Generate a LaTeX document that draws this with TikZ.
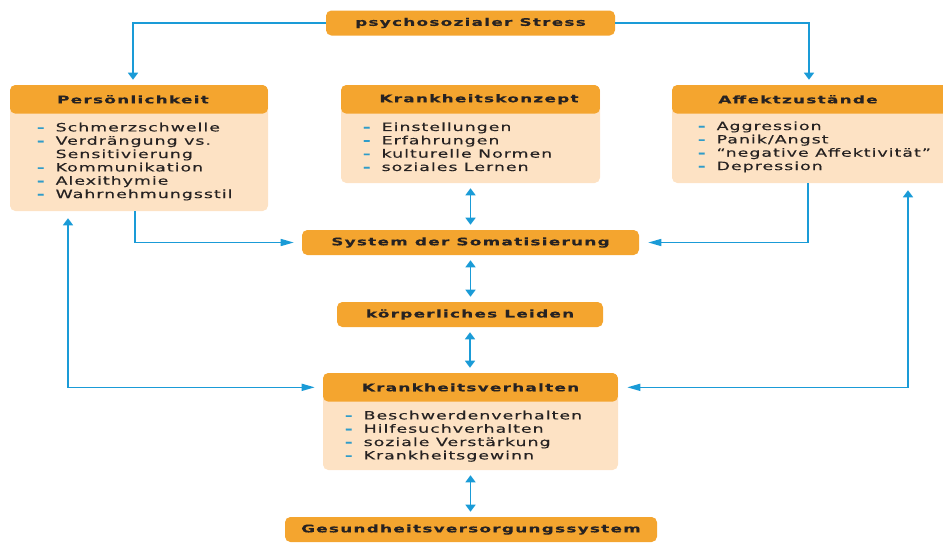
\documentclass[tikz,border=0pt]{standalone}
\usepackage{fontspec}
\setmainfont{DejaVu Sans}[FakeStretch=1.52,LetterSpace=9,FakeBold=0.35,
  BoldFeatures={FakeStretch=1.6,LetterSpace=12,FakeBold=0.3}]
\usepackage{tikz}
\usetikzlibrary{arrows.meta,positioning,calc}
\usepackage{xcolor}

\definecolor{orange}{HTML}{F4A52F}
\definecolor{pfirsich}{HTML}{FDE2C4}
\definecolor{blau}{HTML}{1A9BD7}
\definecolor{schrift}{HTML}{262222}
\definecolor{strich}{HTML}{2F9CC9}

\newcommand{\kopffont}{\bfseries\fontsize{7.9}{9}\selectfont}
\newcommand{\pkt}{\makebox[14pt][l]{\textcolor{strich}{\bfseries -}}}

\begin{document}
\begin{tikzpicture}[x=0.75pt,y=-0.75pt,
  balken/.style={fill=orange,rounded corners=4pt,inner sep=0pt,font=\kopffont,
                 text=schrift,minimum height=18.75pt},
  kasten/.style={fill=pfirsich,rounded corners=4pt,inner sep=0pt,
                 path picture={\fill[orange] (path picture bounding box.north west)
                   rectangle ([yshift=-21.5pt]path picture bounding box.north east);}},
  kopf/.style={anchor=north,inner sep=0pt,minimum height=21.5pt,font=\kopffont,text=schrift},
  liste/.style={inner sep=0pt,align=left,text=schrift,font=\fontsize{8.55}{10}\selectfont},
  spitzev/.tip={Triangle[length=5.25pt,width=7.5pt]},
  spitzeh/.tip={Triangle[length=9.75pt,width=5.25pt]},
  pfeil/.style={draw=blau,line width=1.1pt}]
\useasboundingbox (0,0) rectangle (943,543);

% Kaesten
\node[balken,minimum width=216.75pt] (stress) at (470.5,23) {psychosozialer Stress};
\node[kasten,minimum width=193.5pt,minimum height=94.5pt,
  label={[kopf,name=pers-k,xshift=-4.5pt]north:Persönlichkeit}] (pers) at (139,148) {};
\node[kasten,minimum width=194.25pt,minimum height=73.5pt,
  label={[kopf,name=konz-k,xshift=6.4pt]north:Krankheitskonzept}] (konz) at (470.5,134) {};
\node[kasten,minimum width=207pt,minimum height=73.5pt,
  label={[kopf,name=aff-k,xshift=-9pt]north:Affektzustände}] (aff) at (810,134) {};
\node[balken,minimum width=252.75pt] (soma) at (470.5,242.5) {System der Somatisierung};
\node[balken,minimum width=199.5pt] (leiden) at (470,314.5) {körperliches Leiden};
\node[kasten,minimum width=221.25pt,minimum height=72.75pt,
  label={[kopf,name=verh-k]north:Krankheitsverhalten}] (verh) at (470.5,421.5) {};
\node[balken,minimum width=279pt] (ges) at (471,529.5) {Gesundheitsversorgungssystem};

% Listen
\node[liste,below right=28.3pt and 20.25pt of pers.north west] (pers-l)
  {\pkt Schmerzschwelle\\ \pkt Verdrängung vs.\\ \hspace*{14pt}Sensitivierung\\
   \pkt Kommunikation\\ \pkt Alexithymie\\ \pkt Wahrnehmungsstil};
\node[liste,below right=28pt and 16.5pt of konz.north west] (konz-l)
  {\pkt Einstellungen\\ \pkt Erfahrungen\\ \pkt kulturelle Normen\\ \pkt soziales Lernen};
\node[liste,below right=27.3pt and 19.5pt of aff.north west] (aff-l)
  {\pkt Aggression\\ \pkt Panik/Angst\\ \pkt “negative Affektivität”\\ \pkt Depression};
\node[liste,below right=28.3pt and 16.5pt of verh.north west] (verh-l)
  {\pkt Beschwerdenverhalten\\ \pkt Hilfesuchverhalten\\ \pkt soziale Verstärkung\\
   \pkt Krankheitsgewinn};

% Pfeile
\draw[pfeil,-spitzev,shorten >=3.75pt] (stress.west) -| ($(pers.north)+(-6,0)$);
\draw[pfeil,-spitzev,shorten >=3.75pt] (stress.east) -| ($(aff.north)+(-1,0)$);
\draw[pfeil,-spitzeh,shorten >=6pt] ($(pers.south)+(-4,0)$) |- (soma.west);
\draw[pfeil,-spitzeh,shorten >=6.75pt] ($(aff.south)+(-2,0)$) |- (soma.east);
\draw[pfeil,spitzev-spitzeh,shorten <=5.25pt,shorten >=6pt]
  ($(pers.south)+(-71,0)$) |- (verh.west |- verh-k);
\draw[pfeil,spitzev-spitzeh,shorten <=5.25pt,shorten >=6.75pt]
  ($(aff.south)+(98,0)$) |- (verh.east |- verh-k);
\draw[pfeil,spitzev-spitzev,shorten <=3.75pt,shorten >=3.75pt] (konz.south) -- (soma.north);
\draw[pfeil,spitzev-spitzev,shorten <=3.75pt,shorten >=3.75pt] (soma.south) -- (soma.south |- leiden.north);
\draw[pfeil,spitzev-spitzev,shorten <=3.75pt,shorten >=3.75pt] (leiden.south) -- (leiden.south |- verh.north);
\draw[pfeil,spitzev-spitzev,shorten <=3.75pt,shorten >=3.75pt] (verh.south) -- (verh.south |- ges.north);
\end{tikzpicture}
\end{document}
